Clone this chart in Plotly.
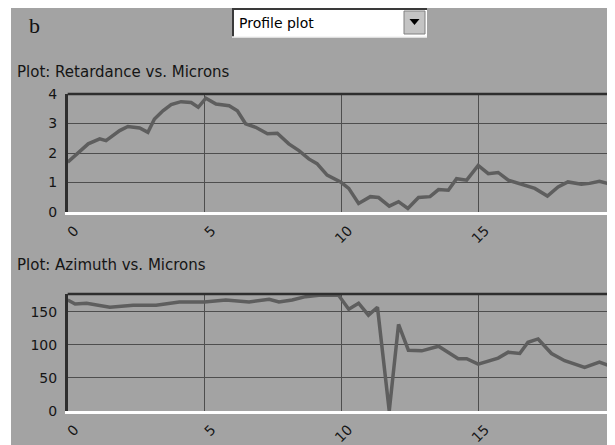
import plotly.graph_objects as go

# ---------------- data ----------------
ret_microns = [0, 0.75, 1.17, 1.4, 1.9, 2.2, 2.63, 2.93, 3.17, 3.48,
               3.78, 4.14, 4.51, 4.77, 5.05, 5.42, 5.9, 6.2, 6.5, 6.87,
               7.3, 7.66, 8.08, 8.45, 8.81, 9.11, 9.48, 9.97, 10.27, 10.63,
               11.06, 11.36, 11.75, 12.09, 12.43, 12.82, 13.24, 13.55, 13.91, 14.21,
               14.58, 15.0, 15.37, 15.73, 16.1, 16.58, 17.07, 17.53, 17.92, 18.28,
               18.77, 19.07, 19.43, 19.73, 20.0]
ret_values = [1.69, 2.31, 2.48, 2.42, 2.76, 2.9, 2.85, 2.70, 3.15, 3.43,
              3.64, 3.74, 3.71, 3.55, 3.86, 3.66, 3.60, 3.43, 2.99, 2.87,
              2.65, 2.67, 2.31, 2.08, 1.8, 1.64, 1.25, 1.02, 0.80, 0.29,
              0.52, 0.49, 0.20, 0.35, 0.12, 0.49, 0.52, 0.76, 0.74, 1.13,
              1.08, 1.58, 1.30, 1.34, 1.08, 0.94, 0.80, 0.54, 0.85, 1.02,
              0.94, 0.97, 1.04, 0.97, 0.75]

azi_microns = [0, 0.27, 0.69, 1.54, 2.39, 3.23, 4.08, 4.99, 5.78, 6.63,
               7.36, 7.72, 8.2, 8.69, 9.18, 9.9, 10.27, 10.63, 10.99, 11.32,
               11.75, 12.09, 12.45, 12.94, 13.55, 14.27, 14.58, 15.0, 15.73, 16.1,
               16.52, 16.82, 17.19, 17.68, 18.16, 18.89, 19.43, 20.0]
azi_values = [168, 162, 163, 157, 160, 160, 165, 165, 168, 165,
              169, 165, 168, 173, 175, 175, 154, 163, 145, 157,
              0, 131, 92, 91, 98, 79, 79, 71, 80, 89,
              87, 104, 109, 87, 76, 66, 74, 65]

x_ticks = [0, 5, 10, 15, 20]
ret_ticks = [0, 1, 2, 3, 4]
azi_ticks = [0, 50, 100, 150]

panel_label = "b"
dropdown_text = "Profile plot"
title_ret = "Plot: Retardance vs. Microns"
title_azi = "Plot: Azimuth vs. Microns"

# ---------------- layout helpers ----------------
# The page body has an 8px margin, so the figure is drawn at page offset (8, 8).
OFF = 8
PAGE_W, PAGE_H = 615, 445
W, H = PAGE_W - OFF, PAGE_H - OFF


def fx(px):
    """page x pixel -> paper fraction"""
    return (px - OFF) / W


def fy(py):
    """page y pixel -> paper fraction"""
    return 1 - (py - OFF) / H


BG = "#a3a3a3"
PLOT_BG = "#b4b4b4"
LINE = "#5e5e5e"
GRID = "#4e4e4e"
TXT = "#151515"
FONT = "DejaVu Sans"

fig = go.Figure()
fig.add_trace(go.Scatter(x=ret_microns, y=ret_values, mode="lines",
                         line=dict(color=LINE, width=3.5), xaxis="x", yaxis="y",
                         hoverinfo="skip"))
fig.add_trace(go.Scatter(x=azi_microns, y=azi_values, mode="lines",
                         line=dict(color=LINE, width=3.5), xaxis="x2", yaxis="y2",
                         hoverinfo="skip"))

x_left = 67.7
top_dom = [fy(212), fy(94)]
bot_dom = [fy(411), fy(294)]

xcommon = dict(range=[0, 20], tickvals=x_ticks, tickangle=-45,
               showgrid=True, gridcolor=GRID, gridwidth=1,
               showline=True, linecolor="white", linewidth=3,
               ticks="", zeroline=False, automargin=False,
               tickfont=dict(family=FONT, size=14, color=TXT),
               ticklabelshift=7, ticklabelstandoff=2, fixedrange=True)
ycommon = dict(showgrid=True, gridcolor=GRID, gridwidth=1,
               showline=True, linecolor="#2e2e2e", linewidth=2.5,
               ticks="", zeroline=False, automargin=False,
               tickfont=dict(family=FONT, size=14, color=TXT),
               ticklabelstandoff=5, fixedrange=True)

fig.update_layout(
    template="none",
    width=W, height=H, autosize=False,
    margin=dict(l=0, r=0, t=0, b=0, pad=0),
    paper_bgcolor="white", plot_bgcolor=PLOT_BG,
    showlegend=False,
    xaxis=dict(domain=[fx(x_left), 1], anchor="y", **xcommon),
    yaxis=dict(domain=top_dom, anchor="x", range=[0, 4], tickvals=ret_ticks, **ycommon),
    xaxis2=dict(domain=[fx(x_left), 1], anchor="y2", **xcommon),
    yaxis2=dict(domain=bot_dom, anchor="x2", range=[0, 177], tickvals=azi_ticks, **ycommon),
)

shapes = []
# gray window panel
shapes.append(dict(type="rect", xref="paper", yref="paper", x0=fx(11), x1=1.0,
                   y0=0, y1=1.0, fillcolor=BG, line=dict(width=0), layer="below"))
# top borders of plots
for dom in (top_dom, bot_dom):
    shapes.append(dict(type="line", xref="paper", yref="paper", x0=fx(x_left), x1=1.0,
                       y0=dom[1], y1=dom[1], line=dict(color="#2e2e2e", width=2.5)))
# dropdown box
bx0, bx1, by0, by1 = 232, 427, 8, 37
shapes.append(dict(type="rect", xref="paper", yref="paper", x0=fx(bx0), x1=fx(bx1),
                   y0=fy(by1), y1=fy(by0), fillcolor="white", line=dict(width=0)))
shapes.append(dict(type="line", xref="paper", yref="paper", x0=fx(bx0), x1=fx(bx1),
                   y0=fy(by0 + 1), y1=fy(by0 + 1), line=dict(color="#3a3a3a", width=2)))
shapes.append(dict(type="line", xref="paper", yref="paper", x0=fx(bx0 + 1), x1=fx(bx0 + 1),
                   y0=fy(by1), y1=fy(by0), line=dict(color="#3a3a3a", width=2)))
shapes.append(dict(type="line", xref="paper", yref="paper", x0=fx(bx0), x1=fx(bx1),
                   y0=fy(by1), y1=fy(by1), line=dict(color="#f2f2f2", width=1.5)))
# arrow button
ax0, ax1, ay0, ay1 = 404, 425, 11, 34
shapes.append(dict(type="rect", xref="paper", yref="paper", x0=fx(ax0), x1=fx(ax1),
                   y0=fy(ay1), y1=fy(ay0), fillcolor="#c4c4c4",
                   line=dict(color="#808080", width=1)))
cxm = (ax0 + ax1) / 2
shapes.append(dict(type="path", xref="paper", yref="paper",
                   path=f"M {fx(cxm-5)},{fy(19)} L {fx(cxm+5)},{fy(19)} L {fx(cxm)},{fy(25)} Z",
                   fillcolor="black", line=dict(width=0)))
fig.update_layout(shapes=shapes)

annotations = [
    dict(text=panel_label, xref="paper", yref="paper", x=fx(27), y=fy(26),
         xanchor="left", yanchor="middle", showarrow=False,
         font=dict(family="Liberation Serif", size=22, color="#111")),
    dict(text=dropdown_text, xref="paper", yref="paper", x=fx(237), y=fy(23),
         xanchor="left", yanchor="middle", showarrow=False,
         font=dict(family=FONT, size=14, color="#000")),
    dict(text=title_ret, xref="paper", yref="paper", x=fx(15), y=fy(72),
         xanchor="left", yanchor="middle", showarrow=False,
         font=dict(family=FONT, size=15, color=TXT)),
    dict(text=title_azi, xref="paper", yref="paper", x=fx(15), y=fy(265),
         xanchor="left", yanchor="middle", showarrow=False,
         font=dict(family=FONT, size=15, color=TXT)),
]
fig.update_layout(annotations=annotations)

fig.write_html("out.html")
